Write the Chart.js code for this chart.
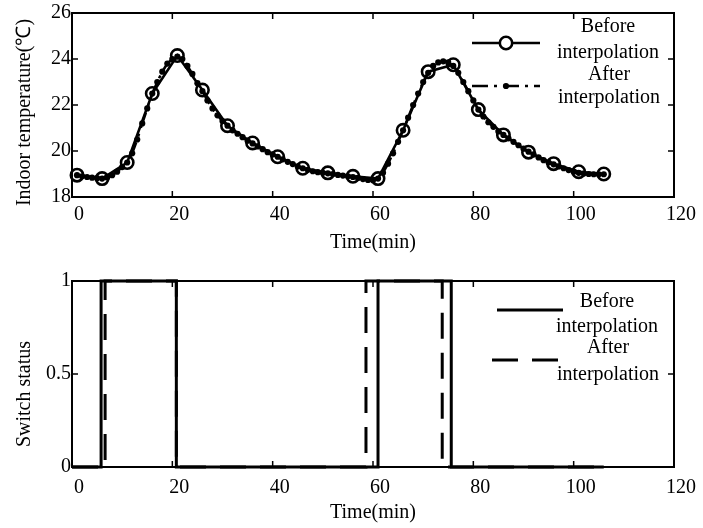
<!DOCTYPE html>
<html>
<head>
<meta charset="utf-8">
<script src="https://cdn.jsdelivr.net/npm/chart.js@4.4.1/dist/chart.umd.min.js"></script>
<style>
  html, body { margin: 0; padding: 0; background: #fff; }
  .box { position: absolute; left: 0; width: 703px; height: 264px; }
</style>
</head>
<body>
<div class="box" style="top:0"><canvas id="tempChart"></canvas></div>
<div class="box" style="top:264px"><canvas id="switchChart"></canvas></div>
<script>
// Indoor temperature, sampled every 5 min (before interpolation)
const beforeTime = [1, 6, 11, 16, 21, 26, 31, 36, 41, 46, 51, 56, 61, 66, 71, 76, 81, 86, 91, 96, 101, 106];
const beforeTemp = [18.95, 18.8, 19.5, 22.5, 24.15, 22.65, 21.1, 20.35, 19.75, 19.25, 19.05, 18.9,
  18.8, 20.9, 23.45, 23.75, 21.8, 20.7, 19.95, 19.45, 19.1, 19.0];

// Indoor temperature every 1 min (after interpolation)
const afterTime = [1, 2, 3, 4, 5, 6, 7, 8, 9, 10, 11, 12, 13, 14, 15, 16, 17, 18, 19, 20,
  21, 22, 23, 24, 25, 26, 27, 28, 29, 30, 31, 32, 33, 34, 35, 36, 37, 38, 39, 40,
  41, 42, 43, 44, 45, 46, 47, 48, 49, 50, 51, 52, 53, 54, 55, 56, 57, 58, 59, 60,
  61, 62, 63, 64, 65, 66, 67, 68, 69, 70, 71, 72, 73, 74, 75, 76, 77, 78, 79, 80,
  81, 82, 83, 84, 85, 86, 87, 88, 89, 90, 91, 92, 93, 94, 95, 96, 97, 98, 99, 100,
  101, 102, 103, 104, 105, 106];
const afterTemp = [18.95, 18.9, 18.87, 18.84, 18.82, 18.8, 18.85, 18.95, 19.1, 19.3,
  19.5, 19.9, 20.5, 21.2, 21.85, 22.5, 23.0, 23.45, 23.8, 24.0,
  24.1, 24.0, 23.7, 23.35, 22.95, 22.6, 22.2, 21.85, 21.55, 21.3,
  21.1, 20.9, 20.75, 20.6, 20.45, 20.33, 20.2, 20.08, 19.95, 19.85,
  19.75, 19.64, 19.53, 19.43, 19.33, 19.25, 19.18, 19.12, 19.08, 19.05,
  19.03, 19.0, 18.96, 18.93, 18.9, 18.87, 18.83, 18.78, 18.74, 18.73,
  18.8, 19.05, 19.45, 19.9, 20.4, 20.9, 21.45, 22.0, 22.5, 23.0,
  23.4, 23.7, 23.85, 23.9, 23.85, 23.7, 23.4, 23.0, 22.6, 22.2,
  21.8, 21.5, 21.25, 21.05, 20.85, 20.7, 20.55, 20.4, 20.25, 20.1,
  19.97, 19.85, 19.72, 19.6, 19.5, 19.42, 19.33, 19.25, 19.17, 19.1,
  19.05, 19.02, 19.0, 18.99, 18.99, 18.99];

// Switch status: times where the state changes, and the state from there on
const beforeSwitchTime = [0, 5.8, 20.8, 61, 75.6, 106];
const beforeSwitchState = [0, 1, 0, 1, 0, 0];
const afterSwitchTime = [0, 6.6, 20.8, 58.6, 73.8, 106];
const afterSwitchState = [0, 1, 0, 1, 0, 0];

const xTicks = [0, 20, 40, 60, 80, 100, 120];
const tempTicks = [18, 20, 22, 24, 26];
const switchTicks = [0, 0.5, 1];

const toPoints = (xs, ys) => xs.map((x, i) => ({ x: x, y: ys[i] }));

Chart.defaults.font.family = '"Liberation Serif", "Times New Roman", serif';
Chart.defaults.font.size = 20;
Chart.defaults.color = '#000';

// box around the plot area with MATLAB-like inward ticks on all four sides
const frameTicks = {
  id: 'frameTicks',
  afterDatasetsDraw(chart) {
    const { ctx, chartArea: a, scales } = chart;
    ctx.save();
    ctx.strokeStyle = '#000';
    ctx.lineWidth = 1.5;
    ctx.beginPath();
    scales.x.ticks.forEach((t, i) => {
      const px = scales.x.getPixelForTick(i);
      ctx.moveTo(px, a.bottom); ctx.lineTo(px, a.bottom - 6);
      ctx.moveTo(px, a.top); ctx.lineTo(px, a.top + 6);
    });
    scales.y.ticks.forEach((t, i) => {
      const py = scales.y.getPixelForTick(i);
      ctx.moveTo(a.left, py); ctx.lineTo(a.left + 6, py);
      ctx.moveTo(a.right, py); ctx.lineTo(a.right - 6, py);
    });
    ctx.stroke();
    ctx.lineWidth = 2;
    ctx.strokeRect(a.left, a.top, a.right - a.left, a.bottom - a.top);
    ctx.restore();
  }
};

// two-line legend entries, text centred to the right of the line sample
const serifLegend = {
  id: 'serifLegend',
  afterDraw(chart, args, opts) {
    const ctx = chart.ctx;
    ctx.save();
    opts.items.forEach((it, i) => {
      const ds = chart.data.datasets[i];
      ctx.strokeStyle = ds.borderColor;
      ctx.lineWidth = ds.borderWidth;
      ctx.setLineDash(ds.borderDash || []);
      ctx.beginPath();
      ctx.moveTo(it.x1, it.y);
      ctx.lineTo(it.x2, it.y);
      ctx.stroke();
      ctx.setLineDash([]);
      if (ds.pointRadius) {
        ctx.beginPath();
        ctx.arc((it.x1 + it.x2) / 2, it.y, ds.pointRadius, 0, Math.PI * 2);
        if (ds.pointBorderWidth) {
          ctx.fillStyle = '#fff';
          ctx.fill();
          ctx.lineWidth = ds.pointBorderWidth;
          ctx.stroke();
        } else {
          ctx.fillStyle = '#000';
          ctx.fill();
        }
      }
      ctx.fillStyle = '#000';
      ctx.font = '20px "Liberation Serif", "Times New Roman", serif';
      ctx.textAlign = 'center';
      ctx.textBaseline = 'middle';
      ds.label.split(' ').forEach((line, j) => ctx.fillText(line, it.tx, it.ty[j]));
    });
    ctx.restore();
  }
};

function axes(yMin, yMax, yTickValues, yTitle, xHeight, xPad, xTitlePad) {
  return {
    x: {
      type: 'linear', min: 0, max: 120,
      afterBuildTicks: s => { s.ticks = xTicks.map(v => ({ value: v })); },
      afterFit: s => { s.height = xHeight; },
      ticks: { padding: xPad, labelOffset: 7, maxRotation: 0 },
      grid: { display: false, drawTicks: false },
      border: { display: false },
      title: { display: true, text: 'Time(min)', padding: { top: 0, bottom: xTitlePad } }
    },
    y: {
      min: yMin, max: yMax,
      afterBuildTicks: s => { s.ticks = yTickValues.map(v => ({ value: v })); },
      afterFit: s => { s.width = 72; },
      ticks: { padding: 1, callback: v => String(v) },
      grid: { display: false, drawTicks: false },
      border: { display: false },
      title: { display: true, text: yTitle, padding: { top: 13, bottom: 0 } }
    }
  };
}

const common = {
  responsive: true,
  maintainAspectRatio: false,
  animation: false,
  devicePixelRatio: 1,
  events: []
};

new Chart(document.getElementById('tempChart'), {
  type: 'line',
  data: {
    datasets: [
      {
        label: 'Before interpolation',
        data: toPoints(beforeTime, beforeTemp),
        borderColor: '#000',
        borderWidth: 2.6,
        tension: 0,
        pointRadius: 6.2,
        pointBorderWidth: 2.6,
        pointBorderColor: '#000',
        pointBackgroundColor: 'rgba(0,0,0,0)',
        clip: false,
        order: 2
      },
      {
        label: 'After interpolation',
        data: toPoints(afterTime, afterTemp),
        borderColor: '#000',
        borderWidth: 2.6,
        borderDash: [16, 6, 3, 6],
        tension: 0,
        pointRadius: 3.1,
        pointBorderWidth: 0,
        pointBackgroundColor: '#000',
        clip: false,
        order: 1
      }
    ]
  },
  options: Object.assign({}, common, {
    layout: { padding: { top: 13, right: 29, left: 0, bottom: 0 } },
    // trailing spaces nudge the rotated title down, as in the original figure
    scales: axes(18, 26, tempTicks, 'Indoor temperature(℃)   ', 67, 6, 9),
    plugins: {
      legend: { display: false },
      tooltip: { enabled: false },
      serifLegend: {
        items: [
          { x1: 472, x2: 540, y: 43, tx: 608, ty: [27, 53] },
          { x1: 472, x2: 540, y: 86, tx: 609, ty: [75, 98] }
        ]
      }
    }
  }),
  plugins: [frameTicks, serifLegend]
});

new Chart(document.getElementById('switchChart'), {
  type: 'line',
  data: {
    datasets: [
      {
        label: 'Before interpolation',
        data: toPoints(beforeSwitchTime, beforeSwitchState),
        stepped: true,
        borderColor: '#000',
        borderWidth: 3,
        pointRadius: 0,
        clip: false
      },
      {
        label: 'After interpolation',
        data: toPoints(afterSwitchTime, afterSwitchState),
        stepped: true,
        borderColor: '#000',
        borderWidth: 3,
        borderDash: [26, 14],
        pointRadius: 0,
        clip: false
      }
    ]
  },
  options: Object.assign({}, common, {
    layout: { padding: { top: 17, right: 29, left: 0, bottom: 0 } },
    scales: axes(0, 1, switchTicks, 'Switch status        ', 61, 9, 3),
    plugins: {
      legend: { display: false },
      tooltip: { enabled: false },
      serifLegend: {
        items: [
          { x1: 497, x2: 563, y: 46, tx: 607, ty: [38, 63] },
          { x1: 492, x2: 558, y: 96, tx: 608, ty: [84, 111] }
        ]
      }
    }
  }),
  plugins: [frameTicks, serifLegend]
});
</script>
</body>
</html>
